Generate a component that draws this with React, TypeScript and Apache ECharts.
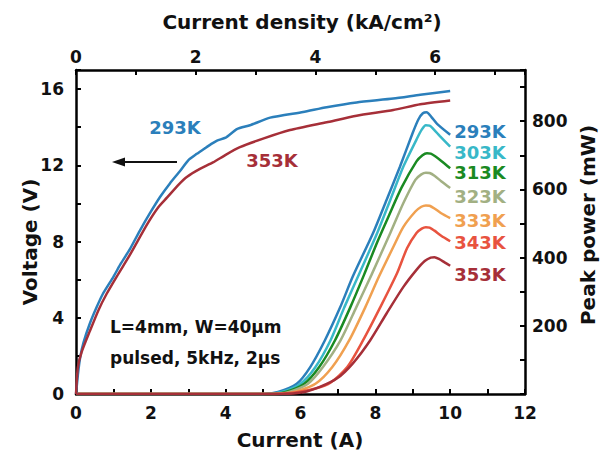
import React, { useEffect, useRef } from 'react';
import * as echarts from 'echarts';

const FONT = '"DejaVu Sans", "Liberation Sans", sans-serif';

// Temperatures (labels) and colours
const TEMPS = ['293K', '303K', '313K', '323K', '333K', '343K', '353K'];
const COLORS = ['#2b7fbb', '#38b8c8', '#1a8a22', '#a2b083', '#f0a050', '#e8533f', '#a62f38'];

// Voltage (V) vs current (A)
const V_293: [number, number][] = [
  [0, 0], [0.05, 1.0], [0.11, 1.9], [0.2, 2.7], [0.37, 3.7], [0.55, 4.55], [0.72, 5.26], [1.0, 6.15],
  [1.2, 6.85], [1.44, 7.6], [1.7, 8.55], [1.98, 9.5], [2.25, 10.35], [2.51, 11.05], [2.78, 11.7],
  [3.0, 12.26], [3.23, 12.6], [3.45, 12.9], [3.6, 13.1], [3.77, 13.3], [4.0, 13.45], [4.3, 13.9],
  [4.65, 14.1], [5.19, 14.5], [6.07, 14.8], [6.7, 15.05], [7.5, 15.3], [8.48, 15.5], [9.2, 15.7], [10.0, 15.9],
];
const V_353: [number, number][] = [
  [0, 0], [0.05, 1.4], [0.15, 2.2], [0.37, 3.3], [0.6, 4.4], [0.82, 5.26], [1.1, 6.2], [1.44, 7.3],
  [1.9, 8.9], [2.2, 9.8], [2.43, 10.3], [2.75, 11.0], [2.97, 11.4], [3.3, 11.8], [3.66, 12.15],
  [4.0, 12.55], [4.38, 12.95], [5.0, 13.4], [5.72, 13.85], [6.7, 14.26], [7.5, 14.6], [8.48, 14.9],
  [9.2, 15.2], [10.0, 15.4],
];

// Peak power (mW) vs current (A)
const P_293: [number, number][] = [
  [0, 0], [5.0, 0], [5.4, 6], [5.9, 30], [6.26, 79], [6.65, 157], [7.06, 254], [7.4, 345], [7.94, 472],
  [8.3, 569], [8.66, 667], [9.0, 766], [9.15, 805], [9.27, 823], [9.37, 826], [9.5, 812], [9.65, 792], [10.0, 760],
];
const P_303: [number, number][] = [
  [0, 0], [5.05, 0], [5.5, 6], [6.0, 30], [6.4, 79], [6.8, 157], [7.17, 254], [7.6, 360], [8.05, 472],
  [8.4, 569], [8.75, 667], [9.1, 746], [9.24, 775], [9.35, 788], [9.45, 787], [9.56, 776], [9.72, 757], [10.0, 725],
];
const P_313: [number, number][] = [
  [0, 0], [5.1, 0], [5.6, 6], [6.1, 30], [6.5, 79], [6.92, 157], [7.33, 254], [7.7, 350], [8.05, 445],
  [8.35, 520], [8.7, 605], [9.1, 682], [9.26, 700], [9.38, 706], [9.48, 705], [9.6, 697], [9.78, 682], [10.0, 662],
];
const P_323: [number, number][] = [
  [0, 0], [5.15, 0], [5.7, 6], [6.2, 30], [6.6, 79], [7.07, 157], [7.49, 254], [7.9, 350], [8.4, 472],
  [8.75, 560], [9.07, 628], [9.23, 644], [9.35, 649], [9.45, 648], [9.58, 640], [9.76, 624], [10.0, 604],
];
const P_333: [number, number][] = [
  [0, 0], [5.2, 0], [5.8, 5], [6.4, 30], [6.85, 79], [7.3, 157], [7.73, 254], [8.1, 345], [8.48, 431],
  [8.75, 490], [9.07, 535], [9.23, 549], [9.35, 553], [9.45, 552], [9.58, 544], [9.76, 530], [10.0, 516],
];
const P_343: [number, number][] = [
  [0, 0], [5.3, 0], [5.9, 5], [6.4, 16], [6.8, 33], [7.25, 79], [7.67, 157], [8.13, 254], [8.58, 354],
  [8.85, 428], [9.1, 472], [9.24, 485], [9.35, 489], [9.45, 488], [9.58, 479], [9.76, 464], [10.0, 448],
];
const P_353: [number, number][] = [
  [0, 0], [5.5, 0], [6.07, 5], [6.5, 20], [6.98, 46], [7.4, 90], [7.86, 157], [8.3, 236], [8.75, 314],
  [9.1, 364], [9.32, 390], [9.48, 400], [9.58, 401], [9.7, 396], [9.85, 386], [10.0, 376],
];
const POWER = [P_293, P_303, P_313, P_323, P_333, P_343, P_353];
const END_LABEL_DY = [-3, 6, 4, 8, 2, 1, 9];

// Tick labels
const BOTTOM_LABELS = [0, 2, 4, 6, 8, 10, 12];
const TOP_LABELS = [0, 2, 4, 6];
const LEFT_LABELS = [0, 4, 8, 12, 16];
const RIGHT_LABELS = [200, 400, 600, 800];

const axisCommon = {
  type: 'value' as const,
  splitLine: { show: false },
  axisLine: { show: true, onZero: false, lineStyle: { color: '#000', width: 2.5 } },
  axisTick: { show: true, inside: true, length: 5, lineStyle: { color: '#000', width: 2 } },
};
const labelStyle = { fontSize: 17, fontWeight: 'bold' as const, fontFamily: FONT, color: '#111' };

export default function App() {
  const ref = useRef<HTMLDivElement>(null);
  useEffect(() => {
    const chart = echarts.init(ref.current!, null, { renderer: 'svg', width: 612, height: 456 });
    const powerSeries = POWER.map((d, i) => ({
      type: 'line',
      name: TEMPS[i],
      data: d,
      xAxisIndex: 0,
      yAxisIndex: 1,
      showSymbol: false,
      smooth: 0.25,
      lineStyle: { color: COLORS[i], width: 2.5 },
      endLabel: {
        show: true,
        formatter: TEMPS[i],
        distance: 4,
        offset: [0, END_LABEL_DY[i]],
        color: COLORS[i],
        fontSize: 18,
        fontWeight: 'bold',
        fontFamily: FONT,
      },
    }));
    const voltSeries = [
      { name: 'V 293K', data: V_293, color: COLORS[0] },
      { name: 'V 353K', data: V_353, color: COLORS[6] },
    ].map((s) => ({
      type: 'line',
      name: s.name,
      data: s.data,
      xAxisIndex: 0,
      yAxisIndex: 0,
      showSymbol: false,
      smooth: 0.2,
      lineStyle: { color: s.color, width: 2.5 },
    }));

    const titleStyle = { fontSize: 20, fontWeight: 'bold', fontFamily: FONT, fill: '#111' };
    chart.setOption({
      animation: false,
      backgroundColor: '#fff',
      grid: { left: 76, right: 87, top: 70, bottom: 62 },
      xAxis: [
        {
          ...axisCommon, position: 'bottom', min: 0, max: 12, interval: 1,
          axisLabel: { ...labelStyle, margin: 10, formatter: (v: number) => (BOTTOM_LABELS.includes(v) ? String(v) : '') },
        },
        {
          ...axisCommon, position: 'top', min: 0, max: 7.5, interval: 1,
          axisLabel: { ...labelStyle, margin: 5, formatter: (v: number) => (TOP_LABELS.includes(v) ? String(v) : '') },
        },
      ],
      yAxis: [
        {
          ...axisCommon, position: 'left', min: 0, max: 17, interval: 2,
          axisLabel: { ...labelStyle, margin: 12, formatter: (v: number) => (LEFT_LABELS.includes(v) ? String(v) : '') },
        },
        {
          ...axisCommon, position: 'right', min: 0, max: 950, interval: 100,
          axisLabel: { ...labelStyle, margin: 7, formatter: (v: number) => (RIGHT_LABELS.includes(v) ? String(v) : '') },
        },
      ],
      series: [...powerSeries, ...voltSeries],
      graphic: [
        { type: 'text', x: 302, y: 22, style: { ...titleStyle, text: 'Current density (kA/cm²)', align: 'center', verticalAlign: 'middle' } },
        { type: 'text', x: 300, y: 440, style: { ...titleStyle, text: 'Current (A)', align: 'center', verticalAlign: 'middle' } },
        { type: 'text', x: 30, y: 242, rotation: Math.PI / 2, style: { ...titleStyle, text: 'Voltage (V)', align: 'center', verticalAlign: 'middle' } },
        { type: 'text', x: 588, y: 225, rotation: Math.PI / 2, style: { ...titleStyle, text: 'Peak power (mW)', align: 'center', verticalAlign: 'middle' } },
        { type: 'text', x: 175, y: 127, style: { text: '293K', fontSize: 18, fontWeight: 'bold', fontFamily: FONT, fill: COLORS[0], align: 'center', verticalAlign: 'middle' } },
        { type: 'text', x: 272, y: 160, style: { text: '353K', fontSize: 18, fontWeight: 'bold', fontFamily: FONT, fill: COLORS[6], align: 'center', verticalAlign: 'middle' } },
        { type: 'text', x: 110, y: 327, style: { text: 'L=4mm, W=40μm', fontSize: 17, fontWeight: 'bold', fontFamily: FONT, fill: '#111', align: 'left', verticalAlign: 'middle' } },
        { type: 'text', x: 110, y: 358, style: { text: 'pulsed, 5kHz, 2μs', fontSize: 17, fontWeight: 'bold', fontFamily: FONT, fill: '#111', align: 'left', verticalAlign: 'middle' } },
        { type: 'line', shape: { x1: 177, y1: 162, x2: 120, y2: 162 }, style: { stroke: '#111', lineWidth: 1.8 } },
        { type: 'polygon', shape: { points: [[112, 162], [125, 157.5], [125, 166.5]] }, style: { fill: '#111' } },
      ],
    });
    return () => chart.dispose();
  }, []);
  return <div ref={ref} style={{ position: 'fixed', left: 0, top: 0, width: 612, height: 456, background: '#fff' }} />;
}
